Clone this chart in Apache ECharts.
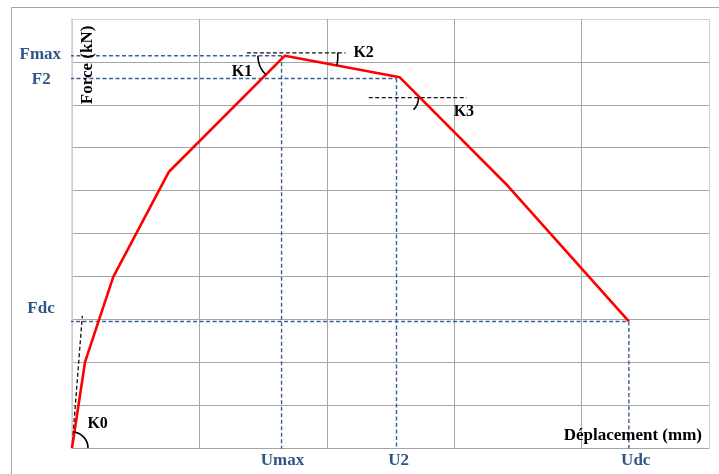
<!DOCTYPE html>
<html><head><meta charset="utf-8">
<script src="https://cdn.jsdelivr.net/npm/echarts@6/dist/echarts.min.js"></script>
<style>html,body{margin:0;padding:0;background:#fff}#c{width:719px;height:474px}</style>
</head><body><div id="c"></div>
<script>
// ---- data (axis units: 5 columns x 10 rows) ----
const curveX = [0, 0.102, 0.324, 0.761, 1.671, 2.573, 3.422, 4.371];
const curveY = [0, 2.00, 3.99, 6.44, 9.145, 8.641, 6.107, 2.953];
const forceNames = ['Fmax', 'F2', 'Fdc'];
const forceValues = [9.145, 8.613, 2.949];
const dispNames = ['Umax', 'U2', 'Udc'];
const dispValues = [1.645, 2.547, 4.371];
// stiffness reference lines (black dashed)
const k0Line = [[0, 0], [0.081, 3.08]];
const k12Line = [[1.373, 9.21], [2.147, 9.21]];
const k3Line = [[2.329, 8.166], [3.098, 8.166]];
// stiffness labels and angle marks
const kNames = ['K0', 'K1', 'K2', 'K3'];
const kLabelX = [0.201, 1.335, 2.289, 3.076];
const kLabelY = [0.559, 8.772, 9.214, 7.839];
const arcCenterX = [0, 1.671, 1.671, 2.586];
const arcCenterY = [0, 9.145, 9.145, 8.166];
const arcStartDeg = [-85.5, 135, -3.5, 0];
const arcEndDeg = [0, 180, 10.6, 45];
// axis titles
const yTitle = 'Force (kN)';
const xTitle = 'Déplacement (mm)';

// ---- build ----
const blue = '#3B5E93';
const labelBlue = '#2D5686';
const serif = '"Liberation Serif","Times New Roman",serif';
const arcRadius = [16, 27, 53, 17];
const axisStart = -0.016;

const curve = curveX.map((x, i) => [x, curveY[i]]);
const [Fmax, F2, Fdc] = forceValues;
const [Umax, U2, Udc] = dispValues;
const blueSegs = [
  [[axisStart, Fmax], [Umax, Fmax]],
  [[Umax, Fmax], [Umax, -0.07]],
  [[axisStart, F2], [U2, F2]],
  [[U2, F2], [U2, -0.05]],
  [[-0.07, Fdc], [Udc, Fdc]],
  [[Udc, Fdc], [Udc, -0.02]]
];
const blackSegs = [k0Line, k12Line, k3Line];

// text annotations: [x, y, text, kind]
const texts = [];
const forceLabelX = [-0.249, -0.241, -0.243];
const forceLabelY = [9.177, 8.585, 3.24];
forceNames.forEach((n, i) => texts.push([forceLabelX[i], forceLabelY[i], n, 'blue']));
const dispLabelX = [1.652, 2.563, 4.425];
dispNames.forEach((n, i) => texts.push([dispLabelX[i], -0.303, n, 'blue']));
kNames.forEach((n, i) => texts.push([kLabelX[i], kLabelY[i], n, 'k']));
texts.push([0.125, 8.93, yTitle, 'ytitle']);
texts.push([4.402, 0.28, xTitle, 'xtitle']);

const series = [];
blueSegs.forEach(seg => series.push({
  type: 'line', data: seg, symbol: 'none', silent: true, z: 3,
  lineStyle: { color: blue, width: 1.4, type: [4, 2.5] }
}));
blackSegs.forEach(seg => series.push({
  type: 'line', data: seg, symbol: 'none', silent: true, z: 3,
  lineStyle: { color: '#111', width: 1.3, type: [4, 2.5] }
}));
series.push({
  type: 'line', data: curve, symbol: 'none', silent: true, z: 5,
  lineStyle: { color: '#ff0000', width: 2.6 }
});
series.push({
  type: 'custom', silent: true, clip: false, z: 6,
  data: arcCenterX.map((x, i) => [x, arcCenterY[i], i]),
  renderItem: function (params, api) {
    const i = api.value(2);
    const p = api.coord([api.value(0), api.value(1)]);
    return {
      type: 'arc',
      shape: { cx: p[0], cy: p[1], r: arcRadius[i],
        startAngle: arcStartDeg[i] * Math.PI / 180,
        endAngle: arcEndDeg[i] * Math.PI / 180, clockwise: true },
      style: { stroke: '#000', lineWidth: 1.6, fill: null }
    };
  }
});
series.push({
  type: 'custom', silent: true, clip: false, z: 7,
  data: texts.map(t => [t[0], t[1]]),
  renderItem: function (params, api) {
    const t = texts[params.dataIndex];
    const p = api.coord([api.value(0), api.value(1)]);
    let fill = '#000', size = 17, rot = 0;
    if (t[3] === 'blue') fill = labelBlue;
    if (t[3] === 'k') size = 16;
    if (t[3] === 'ytitle') rot = Math.PI / 2;
    return {
      type: 'text', x: p[0], y: p[1], rotation: rot,
      style: { text: t[2], fill: fill, font: 'bold ' + size + 'px ' + serif,
        align: 'center', verticalAlign: 'middle' }
    };
  }
});

const chart = echarts.init(document.getElementById('c'), null, { renderer: 'canvas' });
const lightCols = ['#c8c8c8', '#a6a6a6', '#a6a6a6', '#a6a6a6', '#a6a6a6', '#d0d0d0'];
const yCols = [];
for (let i = 0; i <= 10; i++) yCols.push(i === 10 ? '#d4d4d4' : '#a6a6a6');
chart.setOption({
  animation: false,
  backgroundColor: '#fff',
  grid: { left: 72, right: 10, top: 19, bottom: 26 },
  graphic: [{
    type: 'polyline', silent: true, z: 0,
    shape: { points: [[11.5, 474], [11.5, 7.5], [719, 7.5]] },
    style: { stroke: '#a6a6a6', lineWidth: 1, fill: null }
  }],
  xAxis: {
    type: 'value', min: 0, max: 5, interval: 1,
    axisLine: { show: true, onZero: false, lineStyle: { color: '#a6a6a6', width: 1 } },
    axisTick: { show: false }, axisLabel: { show: false },
    splitLine: { show: true, lineStyle: { color: lightCols, width: 1 } }
  },
  yAxis: {
    type: 'value', min: 0, max: 10, interval: 1,
    axisLine: { show: true, onZero: false, lineStyle: { color: '#cfcfcf', width: 1.5 } },
    axisTick: { show: false }, axisLabel: { show: false },
    splitLine: { show: true, lineStyle: { color: yCols, width: 1 } }
  },
  series: series
});
</script>
</body></html>
